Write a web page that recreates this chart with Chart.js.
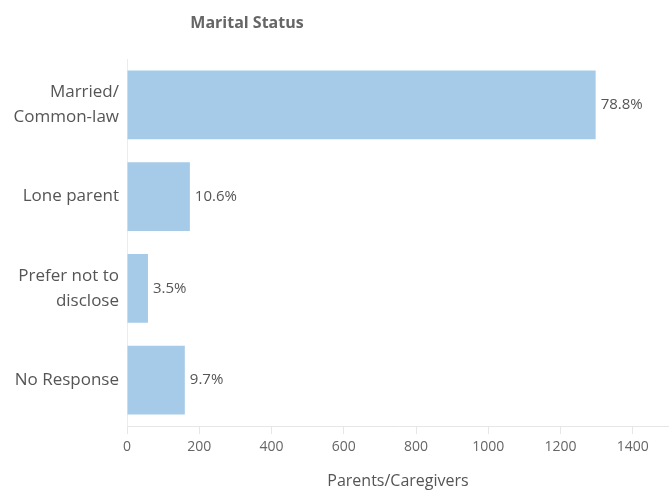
<!DOCTYPE html>
<html>
<head>
<meta charset="utf-8">
<script src="https://cdn.jsdelivr.net/npm/chart.js@4"></script>
<style>
  html, body { margin: 0; padding: 0; background: #fff; }
  #wrap { width: 669px; height: 491px; }
</style>
</head>
<body>
<div id="wrap"><canvas id="myChart" width="669" height="491"></canvas></div>
<script>
//--------------------- Data ---------------------
const categories = [["Married/", "Common-law"], "Lone parent", ["Prefer not to", "disclose"], "No Response"];
const counts = [1297, 174, 58, 160];
const percentLabels = ["78.8%", "10.6%", "3.5%", "9.7%"];
const xTicks = [0, 200, 400, 600, 800, 1000, 1200, 1400];

const chartTitle = "Marital Status";
const axisTitle = "Parents/Caregivers";

const FONT = "'Open Sans', 'Noto Sans', sans-serif";

// draws the title above the chart and the % next to each bar
const labelPlugin = {
  id: "labels",
  afterDraw(chart) {
    const { ctx } = chart;
    ctx.save();
    ctx.font = "bold 16px " + FONT;
    ctx.fillStyle = "#666";
    ctx.textAlign = "center";
    ctx.textBaseline = "middle";
    ctx.fillText(chartTitle, 247, 23);

    ctx.font = "15px " + FONT;
    ctx.fillStyle = "#555";
    ctx.textAlign = "left";
    chart.getDatasetMeta(0).data.forEach((bar, i) => {
      ctx.fillText(percentLabels[i], bar.x + 5, bar.y);
    });
    ctx.restore();
  },
};

//--------------------- Chart ---------------------
const ctx = document.getElementById("myChart").getContext("2d");

const config = {
  type: "bar",
  data: {
    labels: categories,
    datasets: [
      {
        data: counts,
        backgroundColor: "#a6cbe8",
        borderWidth: 0,
        barPercentage: 0.75,
        categoryPercentage: 1,
      },
    ],
  },
  options: {
    indexAxis: "y",
    responsive: false,
    animation: false,
    layout: { padding: { top: 59, right: 0, left: 0, bottom: 0 } },
    plugins: {
      legend: { display: false },
      title: { display: false },
      tooltip: { enabled: false },
    },
    scales: {
      x: {
        min: 0,
        max: 1500,
        afterBuildTicks: (axis) => {
          axis.ticks = xTicks.map((v) => ({ value: v }));
        },
        afterFit: (axis) => {
          axis.height = 65;
        },
        grid: {
          drawOnChartArea: false,
          drawTicks: true,
          tickLength: 8,
          color: "#e6e6e6",
        },
        border: { color: "#e6e6e6" },
        ticks: {
          padding: 5,
          color: "#666",
          font: { family: FONT, size: 14 },
          callback: (v) => String(v),
        },
        title: {
          display: true,
          text: axisTitle,
          color: "#555",
          padding: { top: 3, bottom: 0 },
          font: { family: FONT, size: 16 },
        },
      },
      y: {
        afterFit: (axis) => {
          axis.width = 127;
        },
        grid: { display: false },
        border: { color: "#ececec" },
        ticks: {
          padding: 0,
          color: "#555",
          font: { family: FONT, size: 17, lineHeight: 1.45 },
        },
      },
    },
  },
  plugins: [labelPlugin],
};

new Chart(ctx, config);
</script>
</body>
</html>
